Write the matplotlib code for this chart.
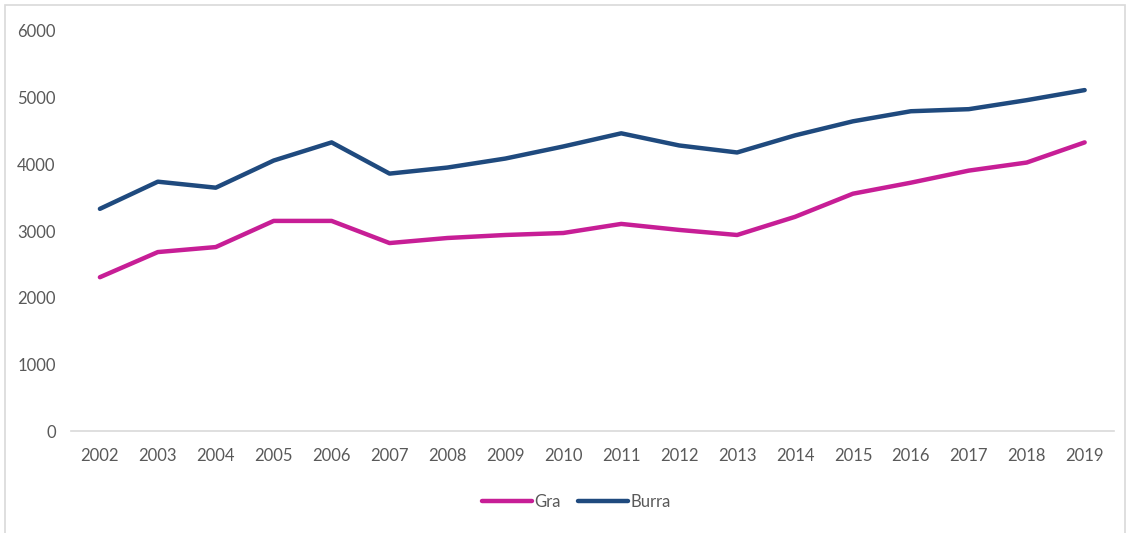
import matplotlib
matplotlib.use("Agg")
import matplotlib.pyplot as plt
from matplotlib.patches import Rectangle

years = [str(y) for y in range(2002, 2020)]
gra = [2308, 2685, 2760, 3152, 3152, 2820, 2896, 2941, 2971, 3107, 3017, 2941, 3213, 3560, 3725, 3906, 4027, 4329]
burra = [3333, 3740, 3650, 4057, 4329, 3861, 3952, 4087, 4268, 4465, 4283, 4178, 4434, 4645, 4796, 4827, 4962, 5113]
yticks = [0, 1000, 2000, 3000, 4000, 5000, 6000]

plt.rcParams['font.family'] = ['Lato', 'DejaVu Sans']
txt = '#595959'

fig = plt.figure(figsize=(11.26, 5.33), dpi=100)
fig.patches.append(Rectangle((0.004, -0.01), 0.995, 1.0, transform=fig.transFigure,
                             fill=False, edgecolor='#d9d9d9', linewidth=1.2))
ax = fig.add_axes([0.063, 0.191, 0.926, 0.751])
x = list(range(len(years)))
ax.plot(x, gra, color='#C71E96', linewidth=3.2, label='Gra', solid_capstyle='round', solid_joinstyle='round')
ax.plot(x, burra, color='#1F4A7E', linewidth=3.2, label='Burra', solid_capstyle='round', solid_joinstyle='round')
ax.set_xlim(-0.5, len(years) - 0.5)
ax.set_ylim(0, 6000)
ax.set_yticks(yticks)
ax.set_xticks(x)
ax.set_xticklabels(years)
for s in ['top', 'right', 'left']:
    ax.spines[s].set_visible(False)
ax.spines['bottom'].set_color('#d9d9d9')
ax.spines['bottom'].set_linewidth(1.2)
ax.tick_params(axis='both', length=0, labelsize=12, colors=txt)
ax.tick_params(axis='x', pad=12)
ax.tick_params(axis='y', pad=11)
leg = fig.legend(loc='center', bbox_to_anchor=(0.512, 0.058), ncol=2, frameon=False,
                 fontsize=12, handlelength=3.0, handletextpad=0.15, columnspacing=1.0)
for t in leg.get_texts():
    t.set_color(txt)
fig.savefig('out.png', dpi=100)
